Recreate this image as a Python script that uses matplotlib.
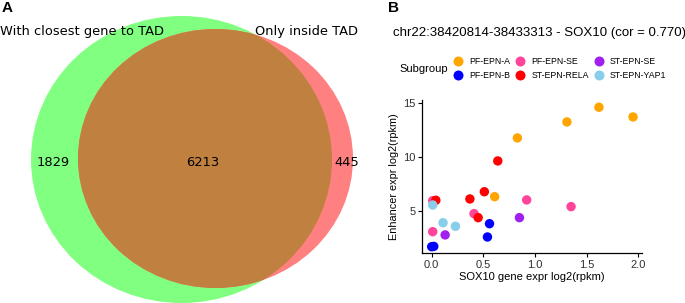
import matplotlib
matplotlib.use("Agg")
import matplotlib.pyplot as plt
from matplotlib.patches import Ellipse
from matplotlib.lines import Line2D

# ---------------- data ----------------
venn_labels = ["With closest gene to TAD", "Only inside TAD"]
venn_counts = [1829, 6213, 445]  # left only, both, right only

subgroups = ["PF-EPN-A", "PF-EPN-B", "PF-EPN-SE", "ST-EPN-RELA", "ST-EPN-SE", "ST-EPN-YAP1"]
sub_colors = ["#FFA500", "#0000FF", "#FF4499", "#FF0000", "#A020F0", "#87CEEB"]

pfa_x = [1.62, 1.95, 1.31, 0.83, 0.61]
pfa_y = [14.63, 13.73, 13.27, 11.79, 6.35]
pfb_x = [0.00, 0.02, 0.56, 0.54]
pfb_y = [1.72, 1.75, 3.85, 2.62]
pfse_x = [0.01, 0.92, 0.41, 0.01, 1.35]
pfse_y = [5.98, 6.05, 4.78, 3.11, 5.43]
rela_x = [0.64, 0.51, 0.37, 0.45, 0.04]
rela_y = [9.66, 6.81, 6.14, 4.41, 6.02]
stse_x = [0.85, 0.13]
stse_y = [4.41, 2.81]
yap_x = [0.11, 0.23, 0.01]
yap_y = [3.94, 3.61, 5.58]

series_x = [pfa_x, pfb_x, pfse_x, rela_x, stse_x, yap_x]
series_y = [pfa_y, pfb_y, pfse_y, rela_y, stse_y, yap_y]

title_b = "chr22:38420814-38433313 - SOX10 (cor = 0.770)"
xlabel_b = "SOX10 gene expr log2(rpkm)"
ylabel_b = "Enhancer expr log2(rpkm)"
xticks_b = [0.0, 0.5, 1.0, 1.5, 2.0]
yticks_b = [5, 10, 15]

# ---------------- figure ----------------
W, H = 685, 303
fig = plt.figure(figsize=(W / 100, H / 100), dpi=100)

# Panel A: Venn diagram in pixel coordinates
axv = fig.add_axes([0, 0, 1, 1])
axv.set_xlim(0, W)
axv.set_ylim(H, 0)
axv.axis("off")

g_geom = dict(xy=(181.5, 159.5), width=301, height=287)
r_geom = dict(xy=(215.5, 158.5), width=275, height=259)
axv.add_patch(Ellipse(**g_geom, facecolor="#80FF80", edgecolor="none"))
axv.add_patch(Ellipse(**r_geom, facecolor="#FF8080", edgecolor="none"))
inter = Ellipse(**r_geom, facecolor="#C08040", edgecolor="none")
axv.add_patch(inter)
clip = Ellipse(**g_geom, transform=axv.transData)
inter.set_clip_path(clip)

vfont = dict(family="DejaVu Sans", fontsize=9.4, color="black")
axv.text(0, 32, venn_labels[0], ha="left", va="center", **vfont)
axv.text(358, 32, venn_labels[1], ha="right", va="center", **vfont)
axv.text(53, 162, str(venn_counts[0]), ha="center", va="center", **vfont)
axv.text(203, 162, str(venn_counts[1]), ha="center", va="center", **vfont)
axv.text(347, 162, str(venn_counts[2]), ha="center", va="center", **vfont)

fig.text(2 / W, 1 - 8 / H, "A", fontsize=11, fontweight="bold", family="Liberation Sans", va="center", ha="left")
fig.text(388 / W, 1 - 8 / H, "B", fontsize=11, fontweight="bold", family="Liberation Sans", va="center", ha="left")

# Panel B: scatter
ax = fig.add_axes([422.3 / W, 1 - 253.3 / H, 220 / W, 153.3 / H])
for name, col, xs, ys in zip(subgroups, sub_colors, series_x, series_y):
    ax.scatter(xs, ys, s=46, color=col, edgecolors="none", label=name, zorder=3)
ax.set_xlim(-0.091, 2.04)
ax.set_ylim(1.11, 15.3)
ax.set_xticks(xticks_b)
ax.set_xticklabels([f"{v:.1f}" for v in xticks_b])
ax.set_yticks(yticks_b)
for s in ["top", "right"]:
    ax.spines[s].set_visible(False)
for s in ["left", "bottom"]:
    ax.spines[s].set_linewidth(0.9)
ax.tick_params(labelsize=8, colors="black", length=3, width=0.8, pad=2)
for lab in ax.get_xticklabels() + ax.get_yticklabels():
    lab.set_family("Liberation Sans")
    lab.set_color("#303030")
ax.set_xlabel(xlabel_b, fontsize=8.0, family="Liberation Sans", labelpad=1)
ax.set_ylabel(ylabel_b, fontsize=7.8, family="Liberation Sans", labelpad=3)

fig.text(393 / W, 1 - 33 / H, title_b, fontsize=9.5, family="Liberation Sans", va="center", ha="left")
fig.text(399 / W, 1 - 69 / H, "Subgroup", fontsize=8, family="Liberation Sans", va="center", ha="left")

handles = [Line2D([], [], marker="o", linestyle="none", markersize=7.2, markerfacecolor=c,
                  markeredgecolor="none") for c in sub_colors]
leg = fig.legend(handles, subgroups, ncol=3, loc="center left",
                 bbox_to_anchor=(453 / W, 1 - 68.7 / H), frameon=False,
                 prop={"family": "Liberation Sans", "size": 6.3},
                 handletextpad=0.66, columnspacing=0.55, labelspacing=0.55,
                 handlelength=1.2, borderaxespad=0, borderpad=0)

fig.savefig("out.png", dpi=100)
